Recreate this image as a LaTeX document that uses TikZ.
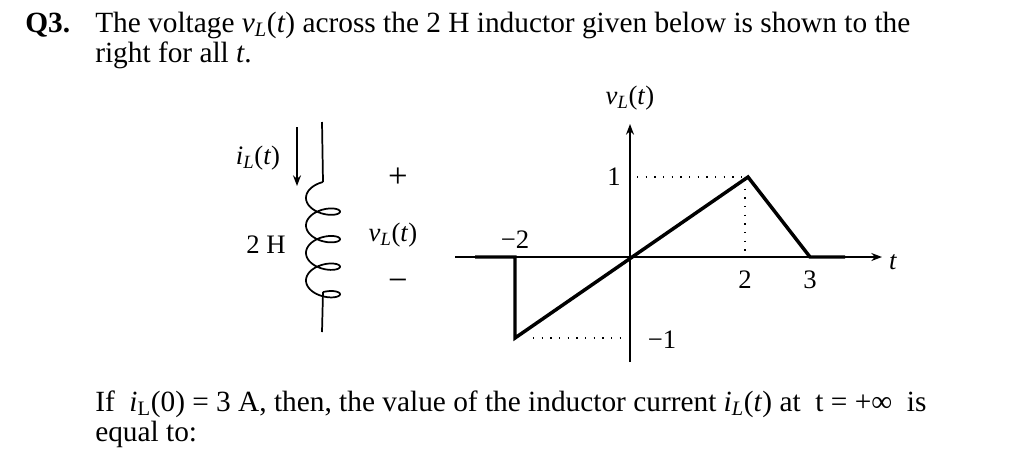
\documentclass[tikz,border=0pt]{standalone}
\usepackage{fontspec}
\setmainfont{Liberation Serif}
\usetikzlibrary{arrows.meta}
\newcommand{\myvL}{\textit{v}\textsubscript{\textit{L}}(\textit{t})}
\newcommand{\myiL}{\textit{i}\textsubscript{\textit{L}}(\textit{t})}
\begin{document}
\begin{tikzpicture}[x=0.75pt,y=-0.75pt,
  txt/.style={font=\fontsize{22}{24}\selectfont,inner sep=0pt},
  lbl/.style={font=\fontsize{20}{22}\selectfont,inner sep=0pt},
  thk/.style={line width=2.6pt,line join=miter},
  ax/.style={line width=1.2pt,-{Stealth[length=8pt,width=6pt]}},
  dots/.style={line width=1pt,dash pattern=on 1pt off 5.5pt}]
\useasboundingbox (0,0) rectangle (1024,458);
% header text
\node[txt,anchor=base west] (q) at (25,32) {\textbf{Q3.}};
\node[txt,anchor=base west] (l1) at (95,32) {The voltage \myvL\ across the 2 H inductor given below is shown to the};
\node[txt,anchor=base west] (l2) at (95,62) {right for all \textit{t}.};
% inductor
\coordinate (wt) at (322,122);
\coordinate (ct) at (323,182);
\coordinate (cb) at (323,292);
\coordinate (wb) at (322,332);
\draw[line width=1.3pt] (wt) -- (ct);
\draw[line width=1.3pt] (cb) -- (wb);
\draw[line width=1.3pt,smooth] plot[domain=0:1440,samples=200,variable=\t]
  ({323-17*sin(\t)},{182+\t/180*3.14159*4.38+9-9*cos(\t)});
\coordinate (ia) at (297,127);
\coordinate (ib) at (297,186);
\draw[line width=1.2pt,-{Stealth[length=8pt,width=6pt]}] (ia) -- (ib);
\node[lbl] (il) at (258,158) {\myiL};
\node[lbl] (h) at (266,245) {2 H};
\node[lbl,font=\fontsize{26}{28}\selectfont] (p) at (398,178) {+};
\node[lbl] (vl) at (393,235) {\myvL};
\node[lbl,font=\fontsize{26}{28}\selectfont] (m) at (398,285) {\textminus};
% graph
\coordinate (o) at (630,257);
\coordinate (xl) at (455,257);
\coordinate (xr) at (882,257);
\coordinate (yb) at (630,362);
\coordinate (yt) at (630,124);
\draw[ax] (xl) -- (xr);
\draw[ax] (yb) -- (yt);
\coordinate (a0) at (475,257);
\coordinate (a1) at (515,257);
\coordinate (a2) at (515,338);
\coordinate (a3) at (748,177);
\coordinate (a4) at (810,257);
\coordinate (a5) at (845,257);
\draw[thk] (a0) -- (a1) -- (a2) -- (a3) -- (a4) -- (a5);
\coordinate (d1) at (637,177);
\coordinate (d2) at (745,180);
\coordinate (d3) at (745,252);
\coordinate (d4) at (533,338);
\coordinate (d5) at (625,338);
\draw[dots] (d1) -- (a3 -| d2);
\draw[dots] (d2) -- (d3);
\draw[dots] (d4) -- (d5);
\node[lbl] (yl) at (630,98) {\myvL};
\node[lbl] (n1) at (614,177) {1};
\node[lbl] (nm2) at (515,240) {\textminus2};
\node[lbl] (n2) at (745,280) {2};
\node[lbl] (n3) at (810,280) {3};
\node[lbl] (nm1) at (662,340) {\textminus1};
\node[lbl] (tl) at (893,262) {\textit{t}};
% bottom text
\node[txt,anchor=base west] (b1) at (95,411) {If\ \ \textit{i}\textsubscript{L}(0) = 3 A, then, the value of the inductor current \myiL\ at\ \ t = +∞\ \ is};
\node[txt,anchor=base west] (b2) at (95,441) {equal to:};
\end{tikzpicture}
\end{document}
